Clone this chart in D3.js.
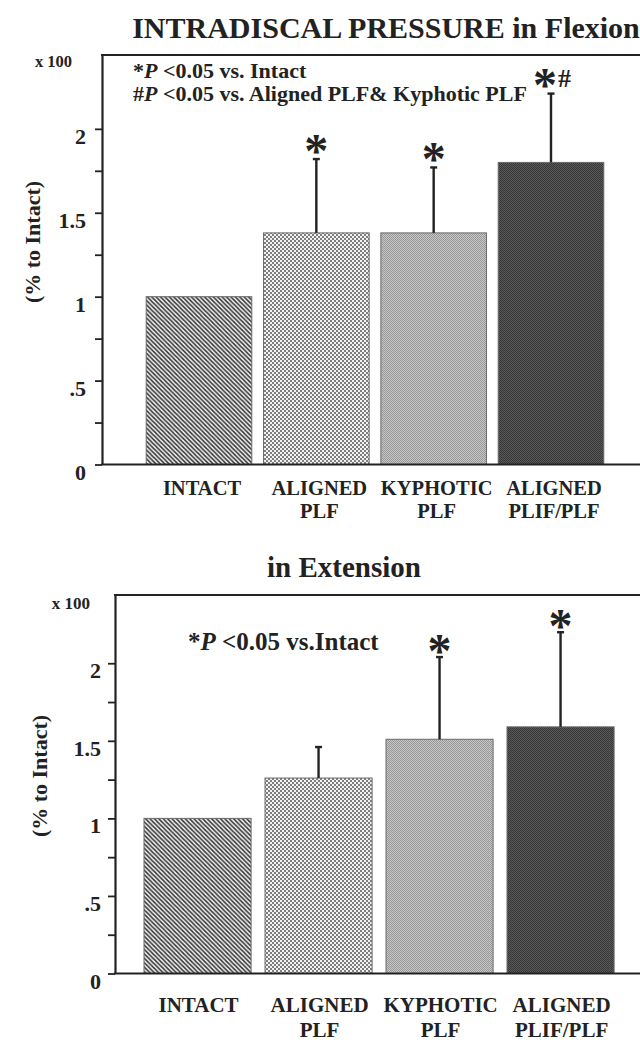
<!DOCTYPE html>
<html><head><meta charset="utf-8">
<script src="https://cdn.jsdelivr.net/npm/d3@7"></script>
<style>body{margin:0;background:#fff} svg{display:block}</style>
</head><body>
<script>
// ---- data ----
const categories = ["INTACT", "ALIGNED PLF", "KYPHOTIC PLF", "ALIGNED PLIF/PLF"];
const categoryLines = [["INTACT"], ["ALIGNED", "PLF"], ["KYPHOTIC", "PLF"], ["ALIGNED", "PLIF/PLF"]];
const flexionMean = [1.00, 1.38, 1.38, 1.80];
const flexionSD = [0, 0.44, 0.39, 0.41];
const flexionMarks = ["", "*", "*", "*#"];
const extensionMean = [1.00, 1.26, 1.51, 1.59];
const extensionSD = [0, 0.20, 0.53, 0.61];
const extensionMarks = ["", "", "*", "*"];
const yMajorTicks = [0, 0.5, 1, 1.5, 2];
const yMajorLabels = ["0", ".5", "1", "1.5", "2"];
const yMinorTicks = [0.25, 0.75, 1.25, 1.75];
const yMax = 2.44;
const titles = ["INTRADISCAL PRESSURE in Flexion", "in Extension"];
const yAxisTitle = "(% to Intact)";
const unitLabel = "x 100";
const flexionNotes = [["*", "P", " <0.05 vs. Intact"], ["#", "P", " <0.05 vs. Aligned PLF& Kyphotic PLF"]];
const extensionNotes = [["*", "P", " <0.05 vs.Intact"]];

// ---- setup ----
const W = 640, H = 1043;
const ink = "#222";
const FONT = "'Liberation Serif','Times New Roman',serif";
const svg = d3.select("body").append("svg").attr("width", W).attr("height", H)
  .style("font-family", FONT).style("font-weight", "bold");

const defs = svg.append("defs");
// Intact: diagonal hatch
{
  const p = defs.append("pattern").attr("id", "pat0").attr("patternUnits", "userSpaceOnUse")
    .attr("width", 4.4).attr("height", 4.4);
  p.append("rect").attr("width", 4.4).attr("height", 4.4).attr("fill", "#f4f4f4");
  p.append("path").attr("d", "M0,0L4.4,4.4M-1,3.4L1,5.4M3.4,-1L5.4,1")
    .attr("stroke", "#383838").attr("stroke-width", 1.6);
}
// Aligned PLF: coarse checker
{
  const p = defs.append("pattern").attr("id", "pat1").attr("patternUnits", "userSpaceOnUse")
    .attr("width", 4).attr("height", 4);
  p.append("rect").attr("width", 4).attr("height", 4).attr("fill", "#7e7e7e");
  p.append("rect").attr("width", 2).attr("height", 2).attr("fill", "#f2f2f2");
  p.append("rect").attr("x", 2).attr("y", 2).attr("width", 2).attr("height", 2).attr("fill", "#f2f2f2");
}
// Kyphotic PLF: fine light checker
{
  const p = defs.append("pattern").attr("id", "pat2").attr("patternUnits", "userSpaceOnUse")
    .attr("width", 2).attr("height", 2);
  p.append("rect").attr("width", 2).attr("height", 2).attr("fill", "#c8c8c8");
  p.append("rect").attr("width", 1).attr("height", 1).attr("fill", "#969696");
  p.append("rect").attr("x", 1).attr("y", 1).attr("width", 1).attr("height", 1).attr("fill", "#969696");
}
// Aligned PLIF/PLF: fine dark checker
{
  const p = defs.append("pattern").attr("id", "pat3").attr("patternUnits", "userSpaceOnUse")
    .attr("width", 2).attr("height", 2);
  p.append("rect").attr("width", 2).attr("height", 2).attr("fill", "#5a5a5a");
  p.append("rect").attr("width", 1).attr("height", 1).attr("fill", "#363636");
  p.append("rect").attr("x", 1).attr("y", 1).attr("width", 1).attr("height", 1).attr("fill", "#363636");
}

function drawChart(cfg) {
  const g = svg.append("g");
  const y = d3.scaleLinear().domain([0, yMax]).range([cfg.base, cfg.frameTop]);
  const x = d3.scaleBand().domain(categories).range(cfg.band)
    .paddingInner(cfg.pIn).paddingOuter(cfg.pOut);

  // title
  g.append("text").attr("x", cfg.titleX).attr("y", cfg.titleY).attr("text-anchor", "middle")
    .attr("font-size", cfg.titleSize).attr("fill", ink).text(cfg.title);

  // unit label
  g.append("text").attr("x", cfg.unitX).attr("y", cfg.unitY).attr("text-anchor", "end")
    .attr("font-size", cfg.unitSize).attr("fill", ink).text(unitLabel);

  // y axis title
  g.append("text").attr("transform", `translate(${cfg.yTitleX},${cfg.yTitleY}) rotate(-90)`)
    .attr("text-anchor", "middle").attr("dominant-baseline", "central")
    .attr("font-size", 22).attr("fill", ink).text(yAxisTitle);

  // bars
  g.selectAll("rect.bar").data(categories).join("rect").attr("class", "bar")
    .attr("x", d => x(d)).attr("width", x.bandwidth())
    .attr("y", (d, i) => y(cfg.mean[i])).attr("height", (d, i) => y(0) - y(cfg.mean[i]))
    .attr("fill", (d, i) => `url(#pat${i})`).attr("stroke", "#6a6a6a").attr("stroke-width", 1);

  // error bars
  const eb = g.selectAll("g.err").data(categories.filter((d, i) => cfg.sd[i] > 0)).join("g").attr("class", "err");
  eb.append("line")
    .attr("x1", d => x(d) + x.bandwidth() / 2).attr("x2", d => x(d) + x.bandwidth() / 2)
    .attr("y1", d => y(cfg.mean[categories.indexOf(d)]))
    .attr("y2", d => { const i = categories.indexOf(d); return y(cfg.mean[i] + cfg.sd[i]); })
    .attr("stroke", ink).attr("stroke-width", 2.4);
  eb.append("line")
    .attr("x1", d => x(d) + x.bandwidth() / 2 - 3.5).attr("x2", d => x(d) + x.bandwidth() / 2 + 3.5)
    .attr("y1", d => { const i = categories.indexOf(d); return y(cfg.mean[i] + cfg.sd[i]); })
    .attr("y2", d => { const i = categories.indexOf(d); return y(cfg.mean[i] + cfg.sd[i]); })
    .attr("stroke", ink).attr("stroke-width", 2.4);

  // significance marks
  categories.forEach((d, i) => {
    const m = cfg.marks[i];
    if (!m) return;
    const top = y(cfg.mean[i] + cfg.sd[i]);
    const t = g.append("text").attr("x", x(d) + x.bandwidth() / 2 + (m.length > 1 ? 1 : 0))
      .attr("y", top - cfg.markGap + 23.5).attr("text-anchor", "middle").attr("fill", ink);
    t.append("tspan").attr("font-size", 48).text(m[0]);
    if (m.length > 1) t.append("tspan").attr("font-size", 26).attr("dx", 1).attr("dy", -14.5).text(m.slice(1));
  });

  // y axis
  const yAxis = d3.axisLeft(y).tickValues(yMajorTicks.concat(yMinorTicks))
    .tickSize(7).tickSizeOuter(0).tickPadding(cfg.tickPad)
    .tickFormat(v => { const k = yMajorTicks.indexOf(v); return k >= 0 ? yMajorLabels[k] : ""; });
  const ya = g.append("g").attr("transform", `translate(${cfg.axisX},0)`).call(yAxis)
    .attr("font-family", FONT);
  ya.select(".domain").attr("stroke", ink).attr("stroke-width", 2.2);
  ya.selectAll(".tick line").attr("stroke", ink).attr("stroke-width", 1.8);
  ya.selectAll(".tick text").attr("font-size", 22).attr("font-family", FONT).attr("font-weight", "bold")
    .attr("fill", ink).attr("dy", "0.66em");

  // frame top and baseline
  g.append("line").attr("x1", cfg.axisX - 1).attr("x2", W).attr("y1", y(yMax)).attr("y2", y(yMax))
    .attr("stroke", ink).attr("stroke-width", 2.2);
  g.append("line").attr("x1", cfg.axisX - 1).attr("x2", W).attr("y1", y(0)).attr("y2", y(0))
    .attr("stroke", ink).attr("stroke-width", 2.2);

  // x axis labels
  const xAxis = d3.axisBottom(x).tickSize(0).tickPadding(0);
  const xa = g.append("g").attr("transform", `translate(${cfg.labelShift},${y(0)})`).call(xAxis)
    .attr("font-family", FONT);
  xa.select(".domain").remove();
  xa.selectAll(".tick text").each(function (d) {
    const t = d3.select(this).text(null).attr("y", 0).attr("dy", null)
      .attr("font-size", cfg.labelSize).attr("font-family", FONT).attr("font-weight", "bold").attr("fill", ink);
    categoryLines[categories.indexOf(d)].forEach((line, j) => {
      t.append("tspan").attr("x", 0).attr("y", j === 0 ? cfg.label1 : cfg.label2).text(line);
    });
  });

  // significance notes
  cfg.notes.forEach((n, j) => {
    const t = g.append("text").attr("x", cfg.noteX).attr("y", cfg.noteY + j * cfg.noteStep)
      .attr("font-size", cfg.noteSize).attr("fill", ink);
    t.append("tspan").text(n[0]);
    t.append("tspan").attr("font-style", "italic").text(n[1]);
    t.append("tspan").text(n[2]);
  });
}

drawChart({
  title: titles[0], titleX: 386, titleY: 38, titleSize: 30,
  mean: flexionMean, sd: flexionSD, marks: flexionMarks,
  axisX: 102, frameTop: 55, base: 464.5, band: [111, 639], pIn: 0.1, pOut: 0.3,
  tickPad: 9, unitX: 72, unitY: 67, unitSize: 16.5,
  yTitleX: 32, yTitleY: 242, markGap: 16,
  labelShift: 3, labelSize: 20.5, label1: 30.5, label2: 53.5,
  notes: flexionNotes, noteX: 133, noteY: 78, noteStep: 23, noteSize: 22
});
drawChart({
  title: titles[1], titleX: 344, titleY: 577, titleSize: 29,
  mean: extensionMean, sd: extensionSD, marks: extensionMarks,
  axisX: 115, frameTop: 595, base: 973.5, band: [119.8, 638.3], pIn: 0.115, pOut: 0.2,
  tickPad: 7, unitX: 90, unitY: 609, unitSize: 17,
  yTitleX: 39, yTitleY: 776, markGap: 14,
  labelShift: 1, labelSize: 21, label1: 38.5, label2: 63.5,
  notes: extensionNotes, noteX: 188, noteY: 650, noteStep: 0, noteSize: 25
});
</script>
</body></html>
